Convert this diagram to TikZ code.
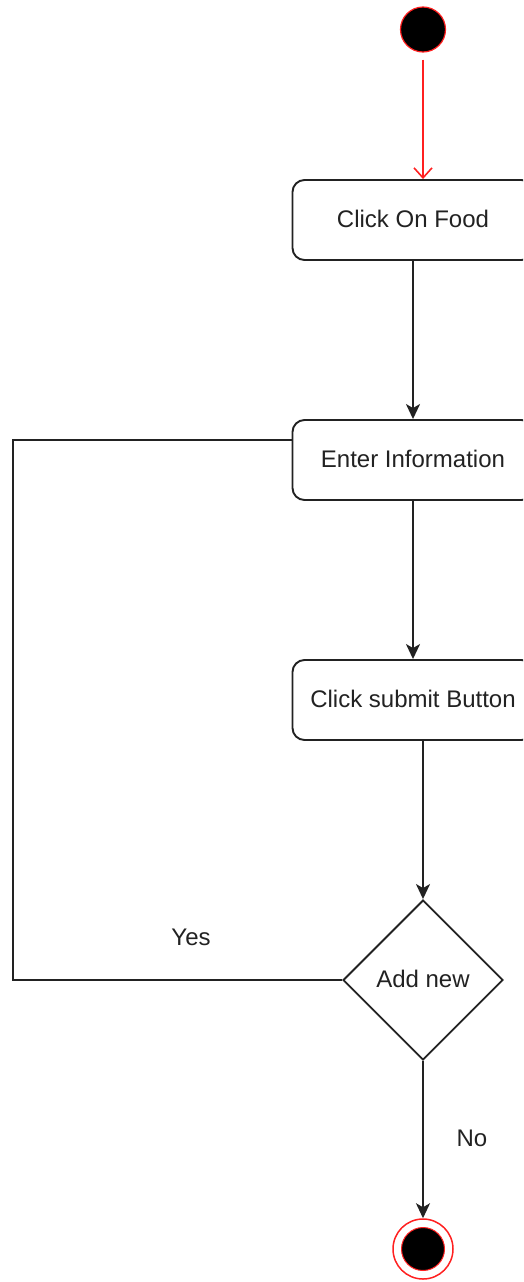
\documentclass[tikz,border=0pt]{standalone}
\usepackage{fontspec}
\setmainfont{Liberation Sans}
\usetikzlibrary{arrows.meta,shapes.geometric}
\definecolor{ln}{HTML}{222222}
\definecolor{rd}{HTML}{FF2020}
\newcommand{\up}[1]{\raisebox{3pt}{#1}}
\begin{document}
\begin{tikzpicture}[x=1pt,y=-1pt,
  act/.style={draw=ln, line width=1.9pt, rounded corners=12pt, minimum width=241pt, minimum height=80pt, fill=white, inner sep=0pt, font=\fontsize{24}{28}\selectfont, text=ln},
  dec/.style={draw=ln, line width=1.9pt, diamond, aspect=1, minimum size=160pt, inner sep=0pt, fill=white, font=\fontsize{24}{28}\selectfont, text=ln},
  flow/.style={draw=ln, line width=1.9pt, -{Stealth[length=15pt,width=14pt,inset=4pt]}},
  redflow/.style={draw=rd, line width=1.6pt, shorten <=7pt, -{Straight Barb[length=10pt,width=18pt]}},
  lbl/.style={font=\fontsize{24}{28}\selectfont, text=ln, inner sep=0pt}]
\useasboundingbox (0,0) rectangle (523,1282);
\clip (0,0) rectangle (523,1282);
\node[circle, fill=black, draw=rd, line width=1.2pt, minimum size=45pt, inner sep=0pt] (start) at (423,29.5) {};
\node[act] (b1) at (413,220) {\up{Click On Food}};
\node[act] (b2) at (413,460) {\up{Enter Information}};
\node[act] (b3) at (413,700) {\up{Click submit Button}};
\node[dec] (d) at (423,980) {\up{Add new}};
\node[circle, draw=rd, line width=1.5pt, minimum size=60pt, inner sep=0pt] (endo) at (423,1249) {};
\node[circle, fill=black, draw=rd, line width=1pt, minimum size=43pt, inner sep=0pt] (endi) at (423,1249) {};
\coordinate (yc) at (13,440);
\draw[redflow] (start) -- (start |- b1.north);
\draw[flow] (b1) -- (b2);
\draw[flow] (b2) -- (b3);
\draw[flow] (b3.south -| d.north) -- (d.north);
\draw[flow] (d.south) -- (endo.north);
\draw[draw=ln, line width=1.9pt] (d.west) -| (yc) -- (b2.west |- yc);
\node[lbl] (yes) at (191,937) {Yes};
\node[lbl] (no) at (472,1138) {No};
\end{tikzpicture}
\end{document}
